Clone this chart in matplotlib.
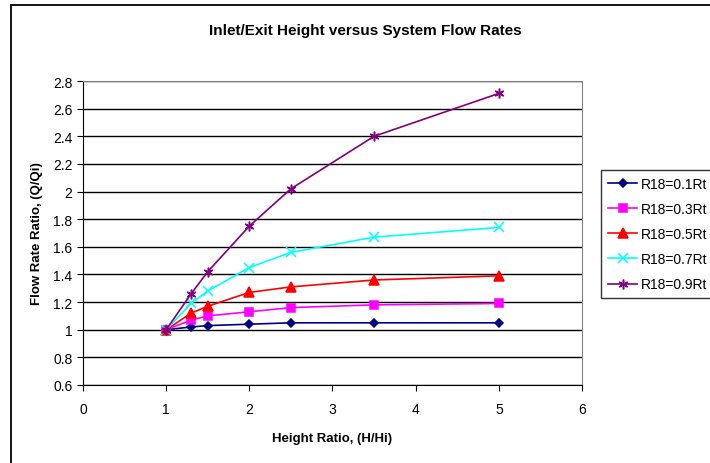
import matplotlib.pyplot as plt
from matplotlib.patches import Rectangle

plt.rcParams['font.family'] = ['Liberation Sans', 'DejaVu Sans']

height_ratio = [1, 1.3, 1.5, 2, 2.5, 3.5, 5]
labels = ['R18=0.1Rt', 'R18=0.3Rt', 'R18=0.5Rt', 'R18=0.7Rt', 'R18=0.9Rt']
r01 = [1.0, 1.02, 1.03, 1.04, 1.05, 1.05, 1.05]
r03 = [1.0, 1.07, 1.10, 1.13, 1.16, 1.18, 1.19]
r05 = [1.0, 1.12, 1.17, 1.27, 1.31, 1.36, 1.39]
r07 = [1.0, 1.19, 1.28, 1.45, 1.56, 1.67, 1.74]
r09 = [1.0, 1.26, 1.42, 1.75, 2.02, 2.40, 2.71]
series = [r01, r03, r05, r07, r09]

colors = ['#000080', '#FF00FF', '#FF0000', '#00FFFF', '#800080']
markers = ['D', 's', '^', 'x', (6, 2, 0)]
msizes = [4.5, 5.5, 6.5, 6.5, 7]

fig = plt.figure(figsize=(7.1, 4.64), dpi=100)
# chart area border (right/bottom run off the image)
fig.patches.append(Rectangle((11 / 710, -0.1), 1.0, 1 - 6 / 464 + 0.1,
                             transform=fig.transFigure, fill=False,
                             edgecolor='black', linewidth=1.3))

ax = fig.add_axes([83 / 710, 1 - 386 / 464, 499 / 710, 304 / 464])

for ys, c, m, ms, lab in zip(series, colors, markers, msizes, labels):
    ax.plot(height_ratio, ys, color=c, marker=m, markersize=ms,
            markeredgewidth=1.1, linewidth=1.2, label=lab, clip_on=False)

ax.set_xlim(0, 6)
ax.set_ylim(0.6, 2.8)
ax.set_xticks(range(0, 7))
ax.set_yticks([0.6, 0.8, 1, 1.2, 1.4, 1.6, 1.8, 2, 2.2, 2.4, 2.6, 2.8])
ax.set_yticklabels(['0.6', '0.8', '1', '1.2', '1.4', '1.6', '1.8', '2',
                    '2.2', '2.4', '2.6', '2.8'])
ax.grid(True, axis='y', color='black', linewidth=1)
ax.set_axisbelow(True)
ax.tick_params(direction='out', length=4, labelsize=10, colors='black')
ax.tick_params(axis='x', pad=8)

for side in ['top', 'right']:
    ax.spines[side].set_color('#808080')
for side in ['left', 'bottom']:
    ax.spines[side].set_color('black')

ax.set_xlabel('Height Ratio, (H/Hi)', fontsize=9.5, fontweight='bold', labelpad=12)
ax.set_ylabel('Flow Rate Ratio, (Q/Qi)', fontsize=9.5, fontweight='bold', labelpad=7)

fig.text(365 / 710, 1 - 31 / 464, 'Inlet/Exit Height versus System Flow Rates',
         ha='center', va='center', fontsize=11, fontweight='bold')

leg = fig.legend(loc='upper left', bbox_to_anchor=(601 / 710, 1 - 171 / 464),
                 fontsize=10, frameon=True, fancybox=False, labelspacing=0.8,
                 handlelength=2.1, handletextpad=0.3, borderpad=0.5,
                 borderaxespad=0)
leg.get_frame().set_edgecolor('black')
leg.get_frame().set_linewidth(1)

fig.savefig('out.png', dpi=100)
